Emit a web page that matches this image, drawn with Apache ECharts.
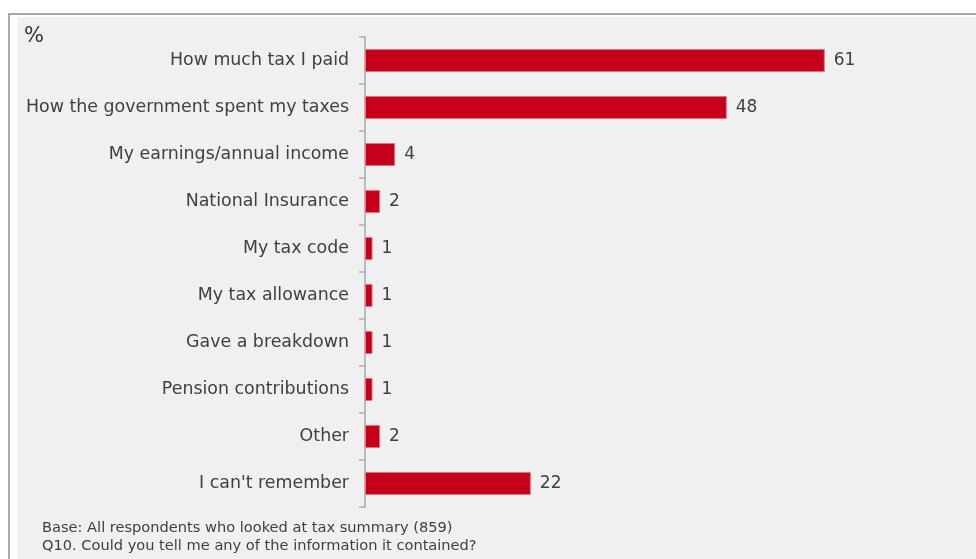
<!DOCTYPE html>
<html>
<head>
<meta charset="utf-8">
<script src="https://cdn.jsdelivr.net/npm/echarts@6/dist/echarts.min.js"></script>
<style>
  html, body { margin: 0; padding: 0; background: #ffffff; }
  #chart { width: 976px; height: 559px; }
</style>
</head>
<body>
<div id="chart"></div>
<script>
// Survey answers, top to bottom
const categories = [
  'How much tax I paid',
  'How the government spent my taxes',
  'My earnings/annual income',
  'National Insurance',
  'My tax code',
  'My tax allowance',
  'Gave a breakdown',
  'Pension contributions',
  'Other',
  "I can't remember"
];
const percentages = [61, 48, 4, 2, 1, 1, 1, 1, 2, 22];
const unitLabel = '%';
const footnotes = [
  'Base: All respondents who looked at tax summary (859)',
  'Q10. Could you tell me any of the information it contained?'
];

const FONT = '"DejaVu Sans", Verdana, sans-serif';
const chart = echarts.init(document.getElementById('chart'), null, { renderer: 'canvas' });

chart.setOption({
  backgroundColor: '#ffffff',
  animation: false,
  graphic: [
    // panel frame and fill
    { type: 'rect', z: -10, shape: { x: 17, y: 17, width: 980, height: 560 },
      style: { fill: '#f0f0f0' } },
    { type: 'rect', z: -9, shape: { x: 9, y: 14, width: 1000, height: 600 },
      style: { fill: 'none', stroke: '#a9a9a9', lineWidth: 2 } },
    { type: 'text', left: 24, top: 26,
      style: { text: unitLabel, font: '21px ' + FONT, fill: '#333333' } },
    { type: 'text', left: 42, top: 519,
      style: { text: footnotes.join('\n'), font: '14.6px ' + FONT, fill: '#404040', lineHeight: 18 } }
  ],
  grid: { left: 365, top: 37, width: 603, height: 470, containLabel: false },
  xAxis: {
    type: 'value', min: 0, max: 80,
    show: false
  },
  yAxis: {
    type: 'category',
    inverse: true,
    data: categories,
    axisLine: { show: true, lineStyle: { color: '#a8a8a8', width: 1.5 } },
    axisTick: { show: true, length: 6, lineStyle: { color: '#b0b0b0', width: 1.5 } },
    axisLabel: { margin: 16, fontFamily: FONT, fontSize: 17.4, color: '#404040' },
    splitLine: { show: false }
  },
  series: [{
    type: 'bar',
    data: percentages,
    barWidth: 23,
    itemStyle: { color: '#c6001a', borderColor: '#e3707e', borderWidth: 1 },
    label: {
      show: true, position: 'right', distance: 9,
      fontFamily: FONT, fontSize: 17, color: '#404040'
    }
  }]
});
</script>
</body>
</html>
